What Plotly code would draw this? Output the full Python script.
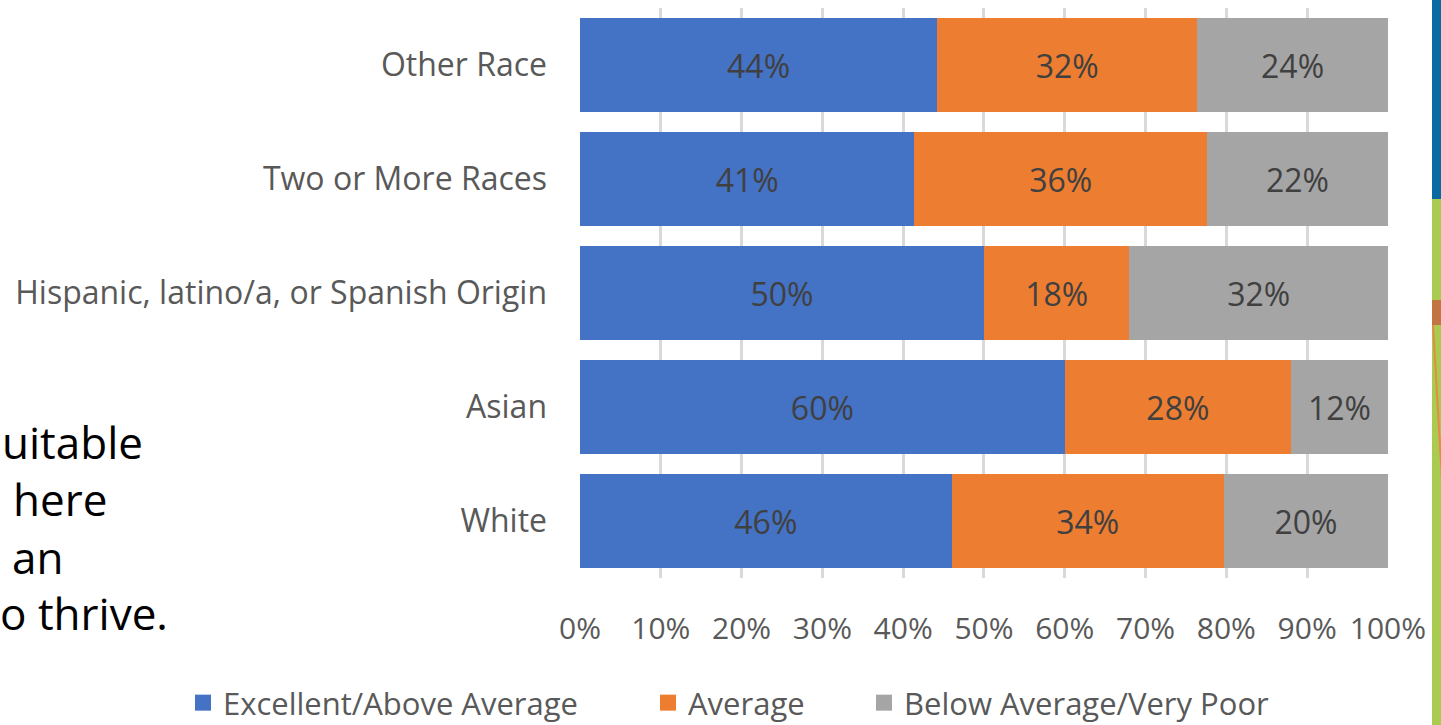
import plotly.graph_objects as go

categories = ["Other Race", "Two or More Races", "Hispanic, latino/a, or Spanish Origin", "Asian", "White"]
excellent = [44.2, 41.4, 50, 60, 46]
average = [32.2, 36.2, 18, 28, 33.7]
below = [23.6, 22.4, 32, 12, 20.3]
series_names = ["Excellent/Above Average", "Average", "Below Average/Very Poor"]
colors = ["#4472C4", "#ED7D31", "#A5A5A5"]
x_ticks = list(range(0, 101, 10))
x_tick_labels = [f"{v}%" for v in x_ticks]
side_text = ["uitable", "here", "an", "o thrive."]

W, H = 1441, 725
L, R, T, B = 580, 53, 8, 147
PW, PH = W - L - R, H - T - B


def px(x):
    return (x - L) / PW


def py(y):
    return (H - B - y) / PH


fig = go.Figure()
for name, vals, col in zip(series_names, [excellent, average, below], colors):
    fig.add_trace(go.Bar(
        y=categories, x=vals, orientation="h", name=name,
        marker=dict(color=col, line=dict(width=0)),
        text=vals, texttemplate="%{x:.0f}%", textposition="inside",
        insidetextanchor="middle", constraintext="none",
        textfont=dict(family="Open Sans", size=32, color="#404040"),
        showlegend=False,
    ))

legend_ids = ["legend", "legend2", "legend3"]
legend_px = [183, 648, 864]
for name, col, lid in zip(series_names, colors, legend_ids):
    fig.add_trace(go.Scatter(
        x=[None], y=[None], mode="markers", name=name, legend=lid,
        marker=dict(symbol="square", size=16, color=col), showlegend=True,
    ))

leg_common = dict(orientation="h", yanchor="middle", xanchor="left", itemsizing="trace",
                  font=dict(family="Open Sans", size=31, color="#595959"),
                  bgcolor="rgba(0,0,0,0)", borderwidth=0)
fig.update_layout(
    legend=dict(x=px(legend_px[0]), y=py(703), **leg_common),
    legend2=dict(x=px(legend_px[1]), y=py(703), **leg_common),
    legend3=dict(x=px(legend_px[2]), y=py(703), **leg_common),
)

# partial slide text on the left
text_pos = [(0, 442), (11, 499), (10, 557), (-2, 613)]
for t, (x0, yc) in zip(side_text, text_pos):
    fig.add_annotation(x=px(x0), y=py(yc), xref="paper", yref="paper", text=t,
                       showarrow=False, xanchor="left", yanchor="middle",
                       font=dict(family="Open Sans", size=44, color="#000000"))

# right edge decoration strip
shapes = [
    dict(type="rect", x0=px(1432), x1=px(1445), y0=py(-2), y1=py(199), fillcolor="#0B6AA2"),
    dict(type="rect", x0=px(1432), x1=px(1445), y0=py(199), y1=py(727), fillcolor="#A9CB4F"),
    dict(type="rect", x0=px(1432), x1=px(1445), y0=py(300), y1=py(325), fillcolor="#C27442"),
]
for s in shapes:
    s.update(xref="paper", yref="paper", line=dict(width=0), layer="above")
    fig.add_shape(**s)
fig.add_shape(type="line", xref="paper", yref="paper", x0=px(1433), y0=py(325), x1=px(1442), y1=py(480),
              line=dict(color="#E8894A", width=2), layer="above")

fig.update_layout(
    barmode="stack", bargap=0.18,
    width=W, height=H,
    margin=dict(l=L, r=R, t=T, b=B, autoexpand=False),
    paper_bgcolor="white", plot_bgcolor="white",
    xaxis=dict(range=[0, 100.01], tickmode="array", tickvals=x_ticks, ticktext=x_tick_labels,
               showgrid=True, gridcolor="#D9D9D9", gridwidth=2.5, zeroline=False, showline=False,
               tickfont=dict(family="Open Sans", size=30, color="#595959"),
               ticklabelstandoff=30, fixedrange=True),
    yaxis=dict(categoryorder="array", categoryarray=categories, autorange="reversed",
               showgrid=False, zeroline=False, showline=False,
               tickfont=dict(family="Open Sans", size=32, color="#595959"),
               ticklabelstandoff=32, fixedrange=True),
)

fig.write_html("out.html", config={"displayModeBar": False},
               post_script="document.body.style.margin='0';document.body.style.overflow='hidden';")
